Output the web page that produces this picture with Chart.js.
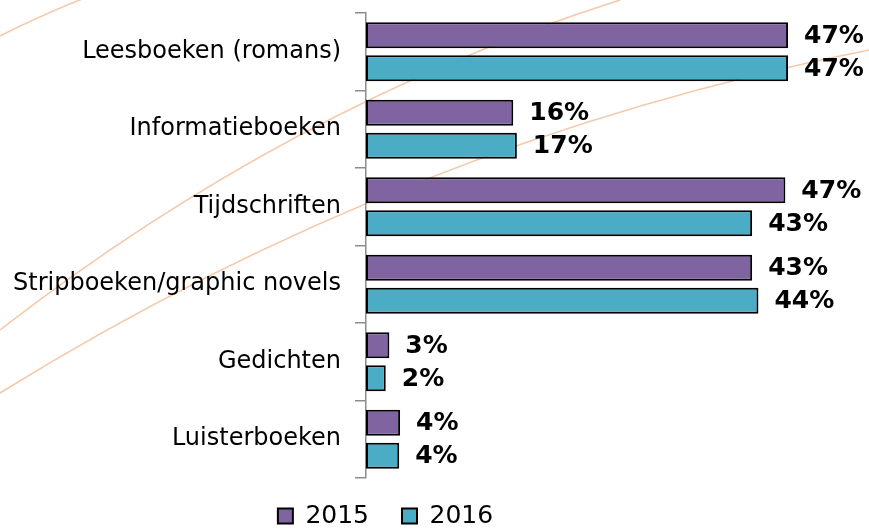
<!DOCTYPE html>
<html>
<head>
<meta charset="utf-8">
<script src="https://cdn.jsdelivr.net/npm/chart.js@4.4.1/dist/chart.umd.min.js"></script>
<style>
  html, body { margin: 0; padding: 0; background: #fff; }
  #wrap { width: 869px; height: 529px; position: relative; }
</style>
</head>
<body>
<div id="wrap"><canvas id="boeken"></canvas></div>
<script>
const categories = ['Leesboeken (romans)', 'Informatieboeken', 'Tijdschriften', 'Stripboeken/graphic novels', 'Gedichten', 'Luisterboeken'];
const values2015 = [47.0, 16.4, 46.7, 43.0, 2.6, 3.8];
const values2016 = [47.0, 16.8, 43.0, 43.7, 2.2, 3.7];
const labels2015 = ['47%', '16%', '47%', '43%', '3%', '4%'];
const labels2016 = ['47%', '17%', '43%', '44%', '2%', '4%'];
const seriesNames = ['2015', '2016'];

Chart.defaults.font.family = "'DejaVu Sans', Verdana, sans-serif";
Chart.defaults.color = '#000';

// faint orange swooshes in the background
const backgroundCurves = {
    id: 'backgroundCurves',
    beforeDraw(chart) {
        const ctx = chart.ctx;
        ctx.save();
        ctx.strokeStyle = '#f4c8a8';
        ctx.lineWidth = 1.5;
        ctx.beginPath(); ctx.moveTo(-20, 46); ctx.quadraticCurveTo(40, 15, 90, -4); ctx.stroke();
        ctx.beginPath(); ctx.moveTo(0, 330); ctx.quadraticCurveTo(290, 105, 620, 0); ctx.stroke();
        ctx.beginPath(); ctx.moveTo(0, 393); ctx.quadraticCurveTo(405, 142, 869, 50); ctx.stroke();
        ctx.restore();
    }
};

const barLabels = [labels2015, labels2016];
const valueLabels = {
    id: 'valueLabels',
    afterDatasetsDraw(chart) {
        const ctx = chart.ctx;
        ctx.save();
        ctx.font = "bold 25px 'DejaVu Sans'";
        ctx.fillStyle = '#000';
        ctx.textBaseline = 'middle';
        chart.data.datasets.forEach(function(ds, i) {
            chart.getDatasetMeta(i).data.forEach(function(bar, j) {
                ctx.fillText(barLabels[i][j], bar.x + 16, bar.y + 1);
            });
        });
        ctx.restore();
    }
};

new Chart(document.getElementById('boeken'), {
    type: 'bar',
    data: {
        labels: categories,
        datasets: [
            {
                label: seriesNames[0],
                data: values2015,
                backgroundColor: '#8064a2',
                borderColor: '#000',
                borderWidth: 2,
                borderSkipped: false
            },
            {
                label: seriesNames[1],
                data: values2016,
                backgroundColor: '#4bacc6',
                borderColor: '#000',
                borderWidth: 2,
                borderSkipped: false
            }
        ]
    },
    options: {
        indexAxis: 'y',
        responsive: true,
        maintainAspectRatio: false,
        animation: false,
        devicePixelRatio: 1,
        categoryPercentage: 0.85,
        barPercentage: 0.79,
        clip: false,
        layout: { padding: { top: 13, right: 98, bottom: -17, left: 0 } },
        scales: {
            x: {
                min: 0, max: 45.1,
                grid: { display: false },
                border: { display: false },
                ticks: { display: false },
                // pulls the legend up a little, closer to the bars
                afterFit(scale) { scale.height = -7.5; }
            },
            y: {
                border: { color: '#8c8c8c', width: 1.5 },
                grid: { drawOnChartArea: false, tickLength: 11, color: '#8c8c8c', lineWidth: 1.5, offset: true },
                ticks: { color: '#000', font: { size: 24 }, padding: 14 },
                afterFit(scale) {
                    scale.width = 366;
                    scale.paddingTop = 0;
                    scale.paddingBottom = 0;
                }
            }
        },
        plugins: {
            legend: {
                position: 'bottom',
                labels: { boxWidth: 15, boxHeight: 15, padding: 33, color: '#000', font: { size: 25 } }
            },
            tooltip: { enabled: false }
        }
    },
    plugins: [backgroundCurves, valueLabels]
});
</script>
</body>
</html>
